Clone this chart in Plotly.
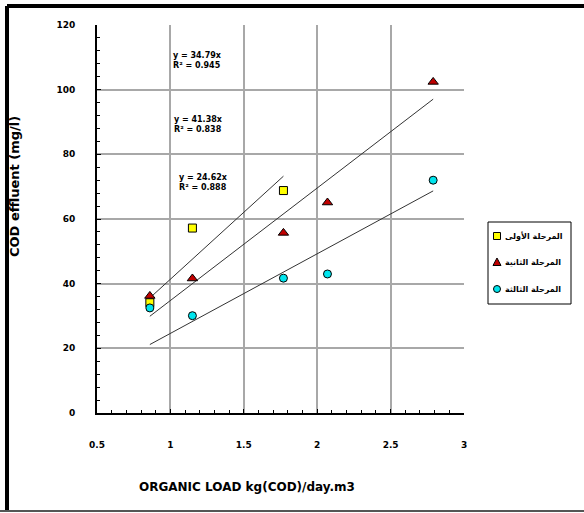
import plotly.graph_objects as go

# ---- data ----
series_names = ["المرحلة الأولى", "المرحلة الثانية", "المرحلة الثالثة"]
x_s1 = [0.86, 1.15, 1.77]
y_s1 = [34.1, 57.2, 68.8]
x_s2 = [0.86, 1.15, 1.77, 2.07, 2.79]
y_s2 = [36.2, 41.6, 55.7, 65.1, 102.4]
x_s3 = [0.86, 1.15, 1.77, 2.07, 2.79]
y_s3 = [32.5, 30.1, 41.7, 43.0, 72.0]
slopes = [41.38, 34.79, 24.62]
eq_labels = ["y = 34.79x<br>R² = 0.945", "y = 41.38x<br>R² = 0.838", "y = 24.62x<br>R² = 0.888"]
x_ticks = [0.5, 1, 1.5, 2, 2.5, 3]
y_ticks = [0, 20, 40, 60, 80, 100, 120]

FONT = "DejaVu Sans, Liberation Sans, Arial"

# plot area in pixels
W, H = 584, 513
L, R, T, B = 97, 464, 25, 413
def px(xp):
    return (xp - L) / (R - L)
def py(yp):
    return (B - yp) / (B - T)

fig = go.Figure()

styles = [
    dict(symbol="square", color="#FFFF00", size=8),
    dict(symbol="triangle-up", color="#C00000", size=9),
    dict(symbol="circle", color="#00E5EE", size=8),
]
xs = [x_s1, x_s2, x_s3]
ys = [y_s1, y_s2, y_s3]

# trend lines (through origin)
for xv, k in zip(xs, slopes):
    x0, x1 = min(xv), max(xv)
    fig.add_trace(go.Scatter(x=[x0, x1], y=[k * x0, k * x1], mode="lines",
                             line=dict(color="#333333", width=1),
                             showlegend=False, hoverinfo="skip"))

for i, (xv, yv, st, nm) in enumerate(zip(xs, ys, styles, series_names)):
    fig.add_trace(go.Scatter(x=xv, y=yv, mode="markers", name=nm, showlegend=False,
                             marker=dict(symbol=st["symbol"], color=st["color"], size=st["size"],
                                         line=dict(color="black", width=1))))

# equation annotations
eq_pos = [(197, 60), (198, 125), (203, 182)]
for (xp, yp), txt in zip(eq_pos, eq_labels):
    fig.add_annotation(x=px(xp), y=py(yp), xref="paper", yref="paper", text="<b>" + txt + "</b>",
                       xanchor="center", yanchor="middle",
                       showarrow=False, font=dict(family=FONT, size=8, color="black"), align="left")

# axis titles
fig.add_annotation(x=px(15), y=py(187), xref="paper", yref="paper",
                   xanchor="center", yanchor="middle",
                   text="<b>COD effluent (mg/l)</b>", textangle=-90, showarrow=False,
                   font=dict(family=FONT, size=13, color="black"))
fig.add_annotation(x=px(247), y=py(487), xref="paper", yref="paper",
                   xanchor="center", yanchor="middle",
                   text="<b>ORGANIC LOAD kg(COD)/day.m3</b>", showarrow=False,
                   font=dict(family=FONT, size=12, color="black"))

# outer frame
fig.add_shape(type="line", xref="paper", yref="paper", x0=px(7), x1=px(584), y0=py(6), y1=py(6),
              line=dict(color="black", width=4))
fig.add_shape(type="line", xref="paper", yref="paper", x0=px(7), x1=px(7), y0=py(6), y1=py(511),
              line=dict(color="black", width=4))
fig.add_shape(type="line", xref="paper", yref="paper", x0=px(0), x1=px(584), y0=py(511), y1=py(511),
              line=dict(color="#555555", width=2))

# manual legend (box outside plot area)
fig.add_shape(type="rect", xref="paper", yref="paper", x0=px(488), x1=px(571), y0=py(222), y1=py(304),
              line=dict(color="black", width=1), fillcolor="white")
leg_y = [236, 262, 289]
mx, r = 497, 3.5
for st, nm, yc in zip(styles, series_names, leg_y):
    if st["symbol"] == "square":
        fig.add_shape(type="rect", xref="paper", yref="paper",
                      x0=px(mx - r), x1=px(mx + r), y0=py(yc - r), y1=py(yc + r),
                      line=dict(color="black", width=1), fillcolor=st["color"])
    elif st["symbol"] == "circle":
        fig.add_shape(type="circle", xref="paper", yref="paper",
                      x0=px(mx - r), x1=px(mx + r), y0=py(yc - r), y1=py(yc + r),
                      line=dict(color="black", width=1), fillcolor=st["color"])
    else:
        path = "M %f,%f L %f,%f L %f,%f Z" % (px(mx), py(yc - r - 0.5), px(mx + r + 0.5), py(yc + r),
                                             px(mx - r - 0.5), py(yc + r))
        fig.add_shape(type="path", xref="paper", yref="paper", path=path,
                      line=dict(color="black", width=1), fillcolor=st["color"])
    fig.add_annotation(x=px(503), y=py(yc), xref="paper", yref="paper", xanchor="left", yanchor="middle",
                       text="<b>" + nm + "</b>", showarrow=False,
                       font=dict(family=FONT, size=8, color="black"))

fig.update_layout(
    width=W, height=H,
    margin=dict(l=L, r=W - R, t=T, b=H - B, autoexpand=False),
    paper_bgcolor="white", plot_bgcolor="white",
    showlegend=False,
    xaxis=dict(range=[0.5, 3], tickvals=x_ticks, ticktext=["<b>%s</b>" % v for v in x_ticks],
               showgrid=True, gridcolor="#A8A8A8", gridwidth=2,
               showline=True, linecolor="black", linewidth=2, mirror=False,
               ticks="inside", ticklen=4, tickcolor="black",
               minor=dict(dtick=0.1, ticks="inside", ticklen=3, tickcolor="black", showgrid=False),
               tickfont=dict(family=FONT, size=9, color="black"),
               ticklabelstandoff=22, zeroline=False),
    yaxis=dict(range=[0, 120], tickvals=y_ticks, ticktext=["<b>%s</b>" % v for v in y_ticks],
               showgrid=True, gridcolor="#A8A8A8", gridwidth=2,
               showline=True, linecolor="black", linewidth=2, mirror=False,
               ticks="inside", ticklen=4, tickcolor="black",
               minor=dict(dtick=4, ticks="inside", ticklen=3, tickcolor="black", showgrid=False),
               tickfont=dict(family=FONT, size=9, color="black"),
               ticklabelstandoff=18, zeroline=False),
)

fig.write_html("out.html")
